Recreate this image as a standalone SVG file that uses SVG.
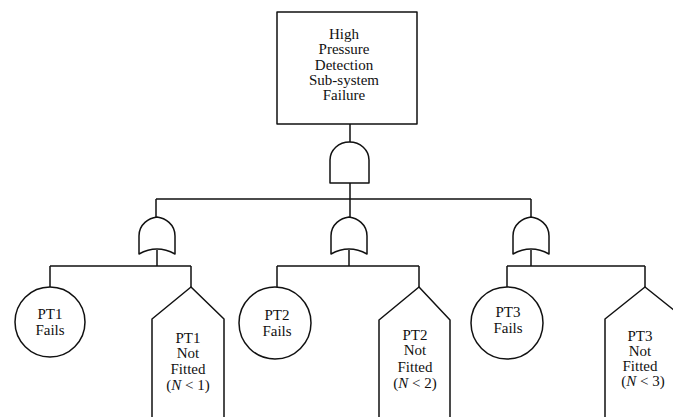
<svg xmlns="http://www.w3.org/2000/svg" width="673" height="417" viewBox="0 0 673 417">
<style>
.s{fill:none;stroke:#111;stroke-width:1.5;stroke-linejoin:round}
.g{fill:#fff;stroke:#111;stroke-width:1.5;stroke-linejoin:round}
text{font-family:"Liberation Serif","Times New Roman",serif;font-size:15px;fill:#111;text-anchor:middle}
.i{font-style:italic}
</style>
<rect width="673" height="417" fill="#fff"/>
<g id="connectors">
<path class="s" d="M350,124V142M350,183V199M156,199H531M156,199V217M350,199V217M531,199V217"/>
<path class="s" d="M157,250V266M50,266H191M50,266V287M191,266V287"/>
<path class="s" d="M349,250V266M277,266H419M277,266V287M419,266V287"/>
<path class="s" d="M531,250V266M507,266H645M507,266V287M645,266V287"/>
</g>
<g id="top-event">
<rect class="g" x="277" y="12" width="140" height="112"/>
<text x="344" y="39">High</text>
<text x="344" y="54">Pressure</text>
<text x="344" y="69.5">Detection</text>
<text x="344" y="84.5">Sub-system</text>
<text x="344" y="100">Failure</text>
</g>
<g id="and-gate">
<path class="g" d="M330,183V160A19.5,18 0 0 1 369,160V183Z"/>
</g>
<g id="or-gate-1">
<path class="g" d="M139,254V236C139,224 149,218 157,217C165,218 175,224 175,236V254Q157,244 139,254Z"/>
</g>
<g id="or-gate-2">
<path class="g" d="M331,254V236C331,224 341,218 349,217C357,218 367,224 367,236V254Q349,244 331,254Z"/>
</g>
<g id="or-gate-3">
<path class="g" d="M513,254V236C513,224 523,218 531,217C539,218 549,224 549,236V254Q531,244 513,254Z"/>
</g>
<g id="pt1-fails">
<circle class="g" cx="50" cy="322" r="35"/>
<text x="50" y="319">PT1</text>
<text x="50" y="335">Fails</text>
</g>
<g id="pt1-not-fitted">
<path class="g" d="M152,418V319L191,287L224,319V418"/>
<text x="188" y="343">PT1</text>
<text x="188" y="358">Not</text>
<text x="188" y="374">Fitted</text>
<text x="188" y="390">(<tspan class="i">N</tspan> &lt; 1)</text>
</g>
<g id="pt2-fails">
<circle class="g" cx="275" cy="323" r="36"/>
<text x="277" y="320">PT2</text>
<text x="277" y="336">Fails</text>
</g>
<g id="pt2-not-fitted">
<path class="g" d="M379,418V320L419,287L450,320V418"/>
<text x="415" y="340">PT2</text>
<text x="415" y="355">Not</text>
<text x="415" y="372">Fitted</text>
<text x="415" y="388">(<tspan class="i">N</tspan> &lt; 2)</text>
</g>
<g id="pt3-fails">
<circle class="g" cx="507" cy="323" r="36"/>
<text x="508" y="317">PT3</text>
<text x="508" y="333">Fails</text>
</g>
<g id="pt3-not-fitted">
<path class="g" d="M605,418V319L645,287L685,319V418"/>
<text x="640" y="341">PT3</text>
<text x="640" y="356">Not</text>
<text x="640" y="371">Fitted</text>
<text x="643" y="386">(<tspan class="i">N</tspan> &lt; 3)</text>
</g>
</svg>
